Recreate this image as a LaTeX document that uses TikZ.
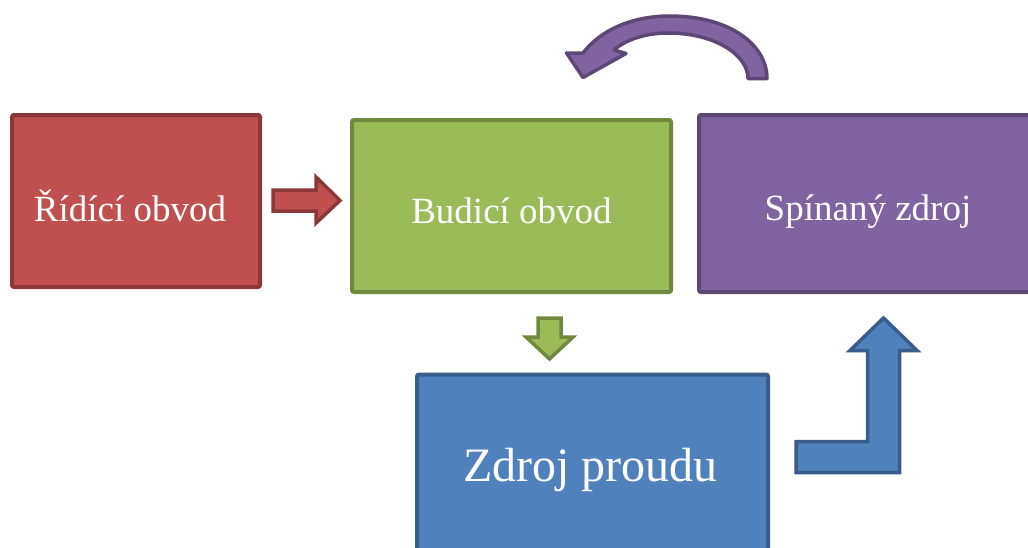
\documentclass[tikz,border=0pt]{standalone}
\usepackage{fontspec}
\setmainfont{Liberation Serif}
\definecolor{redF}{HTML}{C0504D}\definecolor{redD}{HTML}{8C3836}
\definecolor{grnF}{HTML}{9BBB59}\definecolor{grnD}{HTML}{71893F}
\definecolor{purF}{HTML}{8064A2}\definecolor{purD}{HTML}{5C4776}
\definecolor{bluF}{HTML}{4F81BD}\definecolor{bluD}{HTML}{385D8A}
\tikzset{
  box/.style={rectangle, rounded corners=2pt, line width=4pt, text=white,
    font=\fontsize{37}{44}\selectfont, inner sep=0pt},
  blockarrow/.style={line width=3.5pt, line join=miter},
}
\begin{document}
\begin{tikzpicture}[x=1pt,y=-1pt]
\clip (0,0) rectangle (1028,547);
\fill[white] (0,0) rectangle (1028,547);
% boxes
\node[box, fill=redF, draw=redD, minimum width=248pt, minimum height=172pt] (ridici) at (136,201) {\raisebox{-5pt}[\height][\depth]{\hspace*{-12pt}Řídící obvod}};
\node[box, fill=grnF, draw=grnD, minimum width=319pt, minimum height=172pt] (budici) at (511.5,206) {\raisebox{-5pt}[\height][\depth]{Budicí obvod}};
\node[box, fill=purF, draw=purD, minimum width=338pt, minimum height=177pt] (spinany) at (868,203.5) {\raisebox{-8pt}[\height][\depth]{Spínaný zdroj}};
\node[box, fill=bluF, draw=bluD, minimum width=351pt, minimum height=183pt, font=\fontsize{48}{56}\selectfont] (zdroj) at (592.5,466) {\raisebox{-4pt}[\height][\depth]{\hspace*{-4pt}Zdroj proudu}};
% red right arrow
\draw[blockarrow, fill=redF, draw=redD] (273,190) -- (316,190) -- (316,177) -- (340,200.5) -- (316,223) -- (316,211) -- (273,211) -- cycle;
% green down arrow
\draw[blockarrow, fill=grnF, draw=grnD] (538,318) -- (561,318) -- (561,337) -- (573,337) -- (549.5,359) -- (526,337) -- (538,337) -- cycle;
% blue L arrow
\draw[blockarrow, fill=bluF, draw=bluD] (796,441.5) -- (867.5,441.5) -- (867.5,350.5) -- (850,350.5) -- (883.5,318) -- (917,350.5) -- (899.5,350.5) -- (899.5,472.5) -- (796,472.5) -- cycle;
% purple curved arrow
\draw[blockarrow, fill=purF, draw=purD, line join=round]
  (583,77.5) -- (566.5,53) -- (583,53)
  .. controls (605,25) and (640,16) .. (670,16)
  .. controls (730,16) and (767,45) .. (767,78.5)
  -- (748,78.5)
  .. controls (748,55) and (715,33) .. (668,33)
  .. controls (645,33) and (625,40) .. (614,50)
  -- (626,53.5) -- cycle;
\end{tikzpicture}
\end{document}
